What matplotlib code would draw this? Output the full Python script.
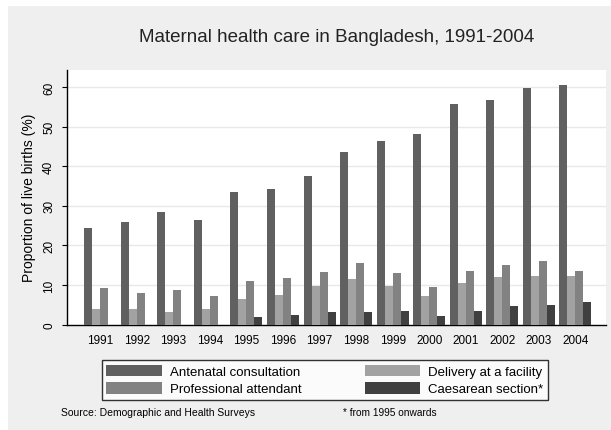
import numpy as np
import matplotlib
matplotlib.use("Agg")
import matplotlib.pyplot as plt
from matplotlib.patches import Rectangle

plt.rcParams["font.family"] = ["Liberation Sans", "DejaVu Sans"]

# ── Data ─────────────────────────────────────────────────────────────────────
years = ["1991", "1992", "1993", "1994", "1995", "1996", "1997",
         "1998", "1999", "2000", "2001", "2002", "2003", "2004"]
antenatal = [24.4, 26.0, 28.4, 26.3, 33.6, 34.2, 37.4,
             43.6, 46.4, 48.2, 55.6, 56.8, 59.8, 60.5]
delivery = [3.8, 3.8, 3.1, 3.8, 6.5, 7.4, 9.8,
            11.4, 9.8, 7.1, 10.5, 12.0, 12.3, 12.3]
professional = [9.2, 8.0, 8.7, 7.1, 11.0, 11.7, 13.2,
                15.6, 12.9, 9.5, 13.5, 15.1, 16.0, 13.5]
caesarean = [np.nan, np.nan, np.nan, np.nan, 1.9, 2.5, 3.1,
             3.1, 3.5, 2.2, 3.5, 4.6, 5.0, 5.6]

series = [
    ("Antenatal consultation", antenatal, "#606060"),
    ("Delivery at a facility", delivery, "#a2a2a2"),
    ("Professional attendant", professional, "#828282"),
    ("Caesarean section*", caesarean, "#404040"),
]

W, H = 611, 431
fig = plt.figure(figsize=(W / 100, H / 100), dpi=100)
fig.patch.set_facecolor("#efefef")
# thin white border at top / left of the original image
fig.add_artist(Rectangle((0, 1 - 7 / H), 1, 7 / H, transform=fig.transFigure,
                         facecolor="white", edgecolor="none", zorder=0))
fig.add_artist(Rectangle((0, 0), 8 / W, 1, transform=fig.transFigure,
                         facecolor="white", edgecolor="none", zorder=0))

ax = fig.add_axes([67 / W, (H - 325.5) / H, 539 / W, 254.5 / H])
ax.set_facecolor("white")

x = np.arange(len(years))
bw = 0.219
handles = []
for k, (label, vals, color) in enumerate(series):
    b = ax.bar(x + (k - 1.5) * bw, vals, width=bw, color=color,
               edgecolor="none", label=label, zorder=3)
    handles.append(b)

ax.set_xlim(-0.912, 13.84)
ax.set_ylim(0, 64.3)
ax.set_yticks([0, 10, 20, 30, 40, 50, 60])
ax.set_xticks(x)
ax.set_xticklabels(years, fontsize=8.5)
ax.tick_params(axis="x", length=0, pad=7)
ax.tick_params(axis="y", length=3.6, width=0.8, pad=5, labelsize=8.5,
               labelrotation=90)
for lab in ax.get_yticklabels():
    lab.set_va("center")

for yv in [10, 20, 30, 40, 50, 60]:
    ax.axhline(yv, color="#e8e8e8", lw=1.0, zorder=1)

for s in ["top", "right"]:
    ax.spines[s].set_visible(False)
for s in ["left", "bottom"]:
    ax.spines[s].set_linewidth(1.0)
    ax.spines[s].set_color("black")

ax.set_ylabel("Proportion of live births (%)", fontsize=10)
ax.yaxis.set_label_coords(-0.0575, 0.5)

fig.text(336.5 / W, (H - 38) / H, "Maternal health care in Bangladesh, 1991-2004",
         ha="center", va="center", fontsize=13.5, color="#222222")

# legend: Ant / Prof in first column, Delivery / Caesarean in second
order = [0, 2, 1, 3]
leg = fig.legend([handles[i] for i in order], [series[i][0] for i in order],
                 ncol=2, loc="lower left", mode="expand",
                 bbox_to_anchor=(101.7 / W, (H - 401) / H, 446.3 / W, 38.7 / H),
                 fontsize=9.5, frameon=True, fancybox=False,
                 handlelength=4.2, handleheight=1.0, handletextpad=0.6,
                 labelspacing=0.3, borderpad=0.35, borderaxespad=0,
                 columnspacing=2.0)
leg.get_frame().set_edgecolor("black")
leg.get_frame().set_linewidth(1.0)

fig.text(60.7 / W, (H - 413) / H, "Source: Demographic and Health Surveys",
         ha="left", va="center", fontsize=7.5)
fig.text(343 / W, (H - 413) / H, "* from 1995 onwards",
         ha="left", va="center", fontsize=7.3)

fig.savefig("out.png", dpi=100, facecolor=fig.get_facecolor())
